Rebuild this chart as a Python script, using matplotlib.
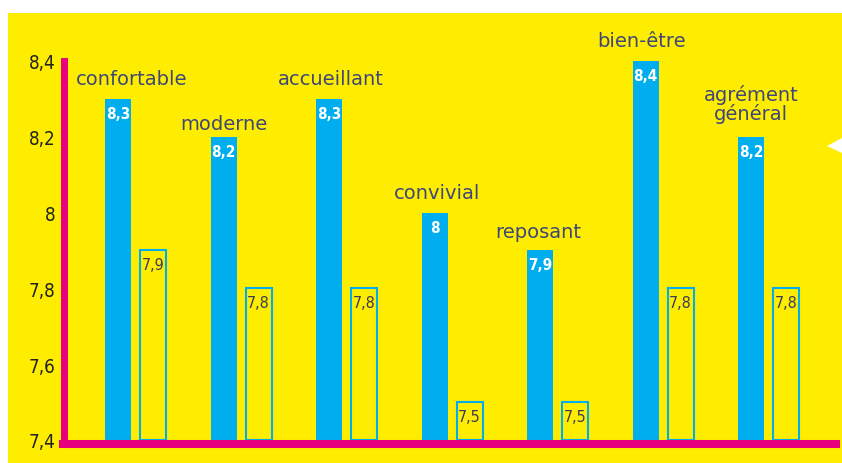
import numpy as np
import matplotlib.pyplot as plt
from matplotlib.patches import Rectangle, Polygon

# scores per criterion: filled bars and outlined comparison bars
categories = ['confortable', 'moderne', 'accueillant', 'convivial',
              'reposant', 'bien-être', 'agrément\ngénéral']
scores = [8.3, 8.2, 8.3, 8.0, 7.9, 8.4, 8.2]
reference = [7.9, 7.8, 7.8, 7.5, 7.5, 7.8, 7.8]
yticks = [7.4, 7.6, 7.8, 8.0, 8.2, 8.4]

YELLOW = '#ffed00'
BLUE = '#00aeef'
PINK = '#e6007e'
NAVY = '#3e4777'

W, H = 842, 464
fig = plt.figure(figsize=(W / 100, H / 100), dpi=100)
fig.patch.set_facecolor('white')

# yellow panel behind the chart
fig.patches.append(Rectangle((8 / W, 0), 1 - 8 / W, 1 - 14 / H,
                             transform=fig.transFigure, facecolor=YELLOW,
                             edgecolor='none', zorder=-2))
# small white pointer on the right edge
fig.patches.append(Polygon([(827 / W, 1 - 147 / H), (1.0, 1 - 139 / H),
                            (1.0, 1 - 154 / H)], closed=True,
                           transform=fig.transFigure, facecolor='white',
                           edgecolor='none', zorder=-1))

ax_left, ax_right = 63.5, 836
ax_top, ax_bot = 62, 445
ax = fig.add_axes([ax_left / W, 1 - ax_bot / H,
                   (ax_right - ax_left) / W, (ax_bot - ax_top) / H])
ax.set_facecolor('none')

step = 105.5
x = np.arange(len(categories))
bw = 26 / step
gap = 35 / step

ax.bar(x, np.array(scores) - 7.4, bottom=7.4, width=bw, color=BLUE,
       edgecolor='none', zorder=2)
ax.bar(x + gap, np.array(reference) - 7.4, bottom=7.4, width=bw,
       facecolor=YELLOW, edgecolor=BLUE, linewidth=1.5, zorder=2)

px_per_unit = (441 - 62) / 1.0
ax.set_ylim(7.4 - 4 / px_per_unit, 8.4)
ax.set_xlim((ax_left - 118) / step, (ax_right - 118) / step)

cond = dict(family='DejaVu Sans', stretch='condensed')
for xi, v in zip(x, scores):
    ax.annotate(f'{v:g}'.replace('.', ','), (xi, v), xytext=(0, -5),
                textcoords='offset points', ha='center', va='top',
                color='white', fontsize=11, fontweight='bold', zorder=3, **cond)
for xi, v in zip(x, reference):
    ax.annotate(f'{v:g}'.replace('.', ','), (xi + gap, v), xytext=(0, -5),
                textcoords='offset points', ha='center', va='top',
                color='#3a3d55', fontsize=11.5, zorder=3, **cond)

# category names above the filled bars (offsets in points)
label_dx = [10, 0, 1, 2, -1, -3, 0]
label_dy = [15, 9.5, 15, 14.5, 14, 14.5, 24]
for xi, v, name, dx, dy in zip(x, scores, categories, label_dx, label_dy):
    ax.annotate(name, (xi, v), xytext=(dx, dy), textcoords='offset points',
                ha='center', va='center', color=NAVY, fontsize=14,
                linespacing=0.9, zorder=3)

ax.set_yticks(yticks)
ax.set_yticklabels([f'{t:g}'.replace('.', ',') for t in yticks],
                   fontsize=13.5, color='#222222', **cond)
ax.tick_params(axis='y', length=0, pad=6)
ax.set_xticks([])

for side in ['top', 'right']:
    ax.spines[side].set_visible(False)
ax.spines['left'].set_color(PINK)
ax.spines['left'].set_linewidth(5)
ax.spines['bottom'].set_color(PINK)
ax.spines['bottom'].set_linewidth(5.8)
ax.spines['left'].set_capstyle('projecting')

fig.savefig('out.png', dpi=100)
